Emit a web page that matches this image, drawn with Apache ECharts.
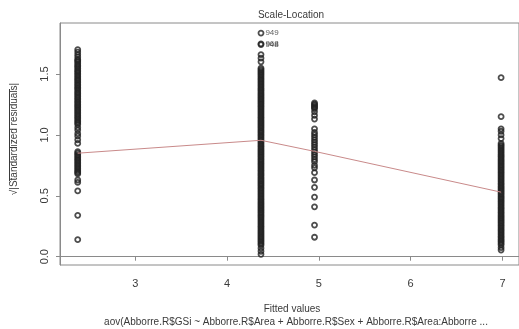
<!DOCTYPE html>
<html>
<head>
<meta charset="utf-8">
<script src="https://cdn.jsdelivr.net/npm/echarts@6/dist/echarts.min.js"></script>
<style>
  html, body { margin: 0; padding: 0; background: #fff; }
  #chart { width: 519px; height: 329px; }
</style>
</head>
<body>
<div id="chart"></div>
<script>
// Fitted values of the four groups (x positions of the point columns)
const fittedLevels = [2.374, 4.37, 4.953, 6.985];

// sqrt(|standardized residuals|) per fitted level
const group1 = [1.70, 1.68, 1.66, 1.64, 1.62,
  1.61, 1.598, 1.584, 1.571, 1.559, 1.546, 1.531, 1.52, 1.507, 1.494, 1.481, 1.468, 1.455, 1.443, 1.43,
  1.416, 1.404, 1.39, 1.379, 1.366, 1.352, 1.341, 1.327, 1.315, 1.302, 1.29, 1.276, 1.264, 1.25, 1.238,
  1.225, 1.212, 1.199, 1.187, 1.173, 1.161, 1.148, 1.136, 1.122, 1.11, 1.097, 1.085,
  1.06, 1.04, 1.01, 0.99, 0.96, 0.93,
  0.862, 0.85, 0.837, 0.825, 0.812, 0.8, 0.788, 0.775, 0.763, 0.75, 0.738, 0.726, 0.713, 0.701, 0.69, 0.68,
  0.63, 0.61, 0.54, 0.34, 0.14];

const group2 = [1.66, 1.63, 1.60,
  1.548, 1.536, 1.523, 1.511, 1.498, 1.486, 1.473, 1.461, 1.449, 1.436, 1.424, 1.411, 1.399, 1.386, 1.374,
  1.362, 1.349, 1.337, 1.324, 1.312, 1.299, 1.287, 1.275, 1.262, 1.25, 1.237, 1.225, 1.212, 1.2, 1.188,
  1.175, 1.163, 1.15, 1.138, 1.125, 1.113, 1.101, 1.088, 1.076, 1.063, 1.051, 1.038, 1.026, 1.014, 1.001,
  0.989, 0.976, 0.964, 0.951, 0.939, 0.927, 0.914, 0.902, 0.889, 0.877, 0.864, 0.852, 0.84, 0.827, 0.815,
  0.802, 0.79, 0.777, 0.765, 0.753, 0.74, 0.728, 0.715, 0.703, 0.69, 0.678, 0.666, 0.653, 0.641, 0.628,
  0.616, 0.603, 0.591, 0.579, 0.566, 0.554, 0.541, 0.529, 0.516, 0.504, 0.492, 0.479, 0.467, 0.454, 0.442,
  0.429, 0.417, 0.405, 0.392, 0.38, 0.367, 0.355, 0.342, 0.33, 0.318, 0.305, 0.293, 0.28, 0.268, 0.255,
  0.243, 0.231, 0.218, 0.206, 0.193, 0.181, 0.168, 0.156, 0.144, 0.131, 0.119, 0.106, 0.095,
  0.07, 0.045, 0.02];

const group3 = [1.262, 1.252, 1.243, 1.233, 1.224, 1.214, 1.19, 1.16, 1.13,
  1.05, 1.02, 1.0, 0.98, 0.96, 0.94, 0.92, 0.9, 0.88, 0.86, 0.84, 0.82, 0.8, 0.78, 0.75, 0.73,
  0.69, 0.63, 0.57, 0.49, 0.41, 0.26, 0.16];

const group4 = [1.47, 1.15, 1.05, 1.03, 1.0, 0.97,
  0.93, 0.917, 0.905, 0.892, 0.88, 0.867, 0.855, 0.842, 0.83, 0.818, 0.805, 0.793, 0.78, 0.768, 0.755,
  0.743, 0.731, 0.718, 0.706, 0.693, 0.681, 0.668, 0.656, 0.644, 0.631, 0.619, 0.606, 0.594, 0.581, 0.569,
  0.557, 0.544, 0.532, 0.519, 0.507, 0.494, 0.482, 0.47, 0.457, 0.445, 0.432, 0.42, 0.407, 0.395, 0.383,
  0.37, 0.358, 0.345, 0.333, 0.32, 0.308, 0.296, 0.283, 0.271, 0.258, 0.246, 0.233, 0.221, 0.209, 0.196,
  0.184, 0.171, 0.159, 0.146, 0.134, 0.122, 0.109, 0.097, 0.075, 0.055];

// Largest residuals, labelled by observation number
const flaggedIds = ['949', '968', '948'];
const flaggedValues = [1.836, 1.748, 1.742];

// Smoothed trend through the groups
const smoothY = [0.85, 0.956, 0.865, 0.53];

const xTicks = [3, 4, 5, 6, 7];
const yTicks = [0.0, 0.5, 1.0, 1.5];

const groups = [group1, group2, group3, group4];
const points = [];
groups.forEach((g, i) => g.forEach(v => points.push([fittedLevels[i], v])));
const flagged = flaggedIds.map((id, i) => ({ name: id, value: [fittedLevels[1], flaggedValues[i]] }));

const axisGray = '#8a8a8a';
const textGray = '#3a3a3a';
const font = 'Liberation Sans, Arial, sans-serif';
const ring = { color: 'rgba(0,0,0,0)', borderColor: '#222', borderWidth: 1.8 };

const chart = echarts.init(document.getElementById('chart'), null, { renderer: 'canvas' });
chart.setOption({
  animation: false,
  backgroundColor: '#fff',
  grid: { left: 60, top: 23, width: 464, height: 242, show: true, borderColor: axisGray, borderWidth: 1 },
  xAxis: {
    type: 'value', min: 2.181, max: 7.18,
    splitLine: { show: false },
    axisLine: { show: true, lineStyle: { color: axisGray } },
    axisTick: { show: true, length: 4, customValues: xTicks, lineStyle: { color: axisGray } },
    axisLabel: { customValues: xTicks, margin: 13, color: textGray, fontSize: 11, fontFamily: font,
      formatter: v => String(v) }
  },
  yAxis: {
    type: 'value', min: -0.068, max: 1.919,
    splitLine: { show: false },
    axisLine: { show: true, lineStyle: { color: axisGray } },
    axisTick: { show: true, length: 4, customValues: yTicks, lineStyle: { color: axisGray } },
    axisLabel: { customValues: yTicks, rotate: 90, margin: 10, color: textGray, fontSize: 11, fontFamily: font,
      formatter: v => v.toFixed(1) }
  },
  series: [
    {
      type: 'scatter', data: points, symbol: 'circle', symbolSize: 5,
      itemStyle: ring, z: 2
    },
    {
      type: 'scatter', data: flagged, symbol: 'circle', symbolSize: 5,
      itemStyle: ring,
      label: { show: true, position: 'right', distance: 1, formatter: p => p.name,
        color: '#333', fontSize: 8, fontFamily: font },
      z: 3
    },
    {
      type: 'line', data: fittedLevels.map((x, i) => [x, smoothY[i]]),
      symbol: 'none', lineStyle: { color: '#c98a8a', width: 1 }, z: 4
    }
  ],
  graphic: [
    { type: 'text', style: { text: 'Scale-Location', x: 291, y: 10, textAlign: 'center',
      fill: textGray, font: '10px ' + font } },
    { type: 'text', style: { text: 'Fitted values', x: 292, y: 304, textAlign: 'center',
      fill: textGray, font: '10px ' + font } },
    { type: 'text', style: { text: 'aov(Abborre.R$GSi ~ Abborre.R$Area + Abborre.R$Sex + Abborre.R$Area:Abborre ...',
      x: 296, y: 317, textAlign: 'center', fill: textGray, font: '10px ' + font } },
    { type: 'text', x: 14, y: 139, rotation: Math.PI / 2,
      style: { text: '\u221A|Standardized residuals|', x: 0, y: 0, textAlign: 'center', textVerticalAlign: 'middle',
        fill: textGray, font: '10px ' + font } },
    { type: 'line', shape: { x1: 9.5, y1: 89, x2: 9.5, y2: 181 }, style: { stroke: textGray, lineWidth: 1 } }
  ]
});
</script>
</body>
</html>
